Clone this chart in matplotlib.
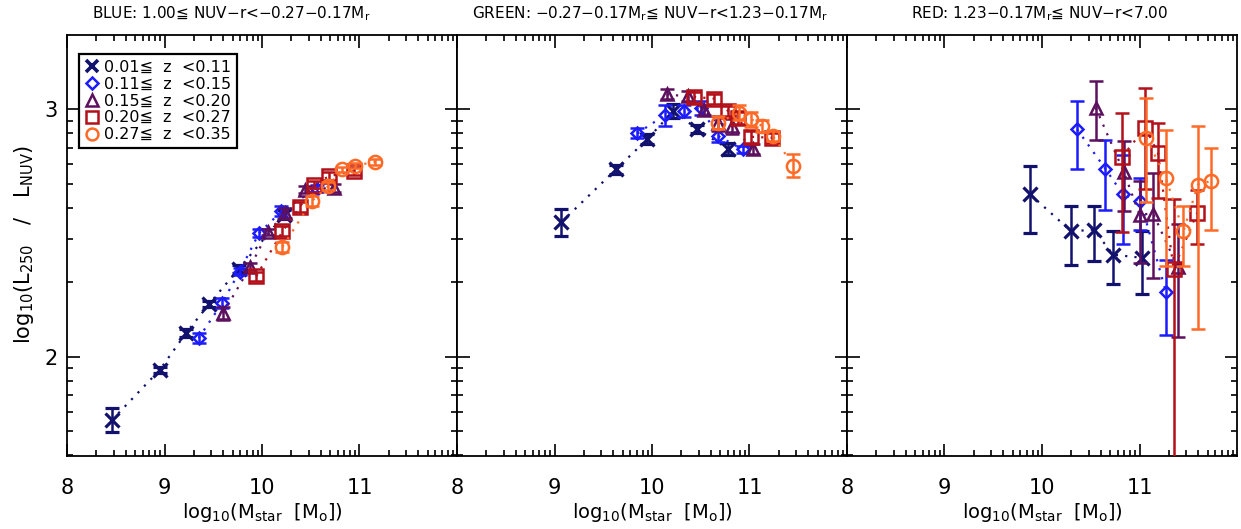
import numpy as np
import matplotlib
matplotlib.use('Agg')
import matplotlib.pyplot as plt
from matplotlib.lines import Line2D
from matplotlib.ticker import FixedLocator

plt.rcParams['font.family'] = ['DejaVu Sans', 'Noto Sans CJK JP']
plt.rcParams['mathtext.fontset'] = 'dejavusans'

# redshift bins
z_labels = ['0.01\u2266  z  <0.11', '0.11\u2266  z  <0.15', '0.15\u2266  z  <0.20',
            '0.20\u2266  z  <0.27', '0.27\u2266  z  <0.35']

panel_titles = ['BLUE: 1.00\u2266 NUV\u2212r<\u22120.27\u22120.17M$_{\\rm r}$',
                'GREEN: \u22120.27\u22120.17M$_{\\rm r}$\u2266 NUV\u2212r<1.23\u22120.17M$_{\\rm r}$',
                'RED: 1.23\u22120.17M$_{\\rm r}$\u2266 NUV\u2212r<7.00']

# BLUE panel: one list per redshift bin
blue_logm = [[8.46, 8.95, 9.22, 9.46, 9.76, 10.23],
             [9.35, 9.59, 9.77, 9.97, 10.20, 10.56],
             [9.60, 9.88, 10.06, 10.24, 10.44, 10.74],
             [9.94, 10.21, 10.39, 10.53, 10.69, 10.94],
             [10.21, 10.51, 10.68, 10.82, 10.95, 11.16]]
blue_ratio = [[1.745, 1.947, 2.096, 2.215, 2.355, 2.575],
              [2.076, 2.217, 2.345, 2.500, 2.588, 2.680],
              [2.176, 2.365, 2.503, 2.580, 2.676, 2.683],
              [2.325, 2.507, 2.606, 2.696, 2.730, 2.750],
              [2.444, 2.629, 2.690, 2.757, 2.773, 2.787]]
blue_err = [[0.05, 0.012, 0.015, 0.012, 0.015, 0.02],
            [0.02, 0.02, 0.015, 0.015, 0.02, 0.015],
            [0.025, 0.015, 0.012, 0.02, 0.015, 0.015],
            [0.02, 0.02, 0.02, 0.015, 0.015, 0.015],
            [0.02, 0.02, 0.015, 0.012, 0.012, 0.012]]

# GREEN panel
green_logm = [[9.07, 9.63, 9.95, 10.22, 10.46, 10.78],
              [9.85, 10.13, 10.33, 10.50, 10.68, 10.93],
              [10.15, 10.37, 10.53, 10.68, 10.82, 11.04],
              [10.43, 10.64, 10.78, 10.88, 11.02, 11.23],
              [10.68, 10.89, 11.02, 11.13, 11.24, 11.45]]
green_ratio = [[2.544, 2.757, 2.879, 2.993, 2.921, 2.840],
               [2.903, 2.976, 2.993, 3.005, 2.892, 2.838],
               [3.060, 3.052, 2.998, 2.943, 2.932, 2.838],
               [3.050, 3.043, 2.993, 2.966, 2.889, 2.885],
               [2.946, 2.986, 2.960, 2.932, 2.892, 2.773]]
green_err = [[0.055, 0.02, 0.02, 0.03, 0.015, 0.025],
             [0.02, 0.042, 0.025, 0.03, 0.025, 0.015],
             [0.02, 0.02, 0.02, 0.03, 0.03, 0.02],
             [0.02, 0.02, 0.02, 0.025, 0.025, 0.02],
             [0.025, 0.03, 0.03, 0.025, 0.02, 0.045]]

# RED panel (asymmetric errors)
red_logm = [[9.88, 10.30, 10.53, 10.73, 11.03],
            [10.36, 10.65, 10.83, 11.01, 11.27],
            [10.55, 10.84, 11.00, 11.14, 11.39],
            [10.82, 11.06, 11.19, 11.35, 11.59],
            [11.07, 11.27, 11.45, 11.60, 11.73]]
red_ratio = [[2.656, 2.507, 2.514, 2.413, 2.400],
             [2.919, 2.760, 2.656, 2.629, 2.264],
             [3.007, 2.746, 2.575, 2.579, 2.363],
             [2.808, 2.926, 2.822, 2.355, 2.581],
             [2.885, 2.723, 2.507, 2.696, 2.710]]
red_err_hi = [[0.114, 0.104, 0.097, 0.097, 0.11],
              [0.115, 0.114, 0.16, 0.094, 0.129],
              [0.108, 0.126, 0.135, 0.162, 0.174],
              [0.176, 0.158, 0.124, 0.281, 0.092],
              [0.162, 0.193, 0.102, 0.236, 0.132]]
red_err_lo = [[0.155, 0.135, 0.128, 0.117, 0.145],
              [0.159, 0.165, 0.20, 0.115, 0.175],
              [0.133, 0.158, 0.196, 0.26, 0.281],
              [0.303, 0.247, 0.18, 1.2, 0.125],
              [0.26, 0.357, 0.139, 0.583, 0.199]]

colors = ['#12126e', '#1c1cff', '#5c105e', '#b3101a', '#ff6a26']
markers = ['x', 'D', '^', 's', 'o']
msizes = [10, 6.5, 9, 9.5, 9.5]

panels = [(blue_logm, blue_ratio, blue_err, blue_err),
          (green_logm, green_ratio, green_err, green_err),
          (red_logm, red_ratio, red_err_lo, red_err_hi)]

W, H = 1241, 529
fig = plt.figure(figsize=(W / 100, H / 100), dpi=100)

# IDL-style minor ticks at n + log10(k)
x_minor = [n + np.log10(k) for n in range(8, 12) for k in range(2, 10)]
y_minor = [n + np.log10(k) for n in range(1, 4) for k in range(2, 10)]

left_px = [67, 457, 847]
title_px = [231, 650, 1040]
for p, (logm, ratio, elo, ehi) in enumerate(panels):
    ax = fig.add_axes([left_px[p] / W, (H - 456) / H, 390 / W, 421 / H])
    for i in range(5):
        ax.errorbar(logm[i], ratio[i], yerr=[elo[i], ehi[i]], color=colors[i],
                    ls=(0, (1, 3.2)), lw=1.6, marker=markers[i], ms=msizes[i],
                    mfc='none', mec=colors[i], mew=1.8 if i else 2.3,
                    elinewidth=1.8, capsize=5, capthick=1.8, zorder=2 + i)
    ax.set_xlim(8, 12)
    ax.set_ylim(1.6, 3.3)
    ax.set_xticks([8, 9, 10, 11])
    ax.set_xticklabels(['8', '9', '10', '11'])
    ax.set_yticks([2, 3])
    ax.xaxis.set_minor_locator(FixedLocator(x_minor))
    ax.yaxis.set_minor_locator(FixedLocator(y_minor))
    ax.tick_params(which='both', direction='in', top=True, right=True,
                   width=1.2, labelsize=15, color='black')
    ax.tick_params(which='major', length=9)
    ax.tick_params(which='minor', length=4.5)
    ax.tick_params(axis='x', pad=16)
    ax.tick_params(axis='y', pad=7)
    if p > 0:
        ax.set_yticklabels([])
    for s in ax.spines.values():
        s.set_linewidth(1.3)
    ax.set_xlabel('log$_{10}$(M$_{\\rm star}$  [M$_{\\rm o}$])', fontsize=14,
                  labelpad=2)
    fig.text(title_px[p] / W, 1 - 14 / H, panel_titles[p], fontsize=11,
             ha='center', va='center')
    if p == 0:
        handles = [Line2D([], [], ls='none', marker=markers[i], ms=msizes[i] * 0.9,
                          mfc='none', mec=colors[i], mew=1.8 if i else 2.6)
                   for i in range(5)]
        leg = ax.legend(handles, z_labels, loc='upper left',
                        bbox_to_anchor=(0.031, 0.955), borderaxespad=0,
                        fontsize=11.5, handlelength=0.9, handletextpad=0.3,
                        labelspacing=0.12, borderpad=0.35, fancybox=False,
                        framealpha=1, edgecolor='black')
        leg.get_frame().set_linewidth(1.6)

fig.text(24 / W, 1 - 245 / H, 'log$_{10}$(L$_{250}$   /   L$_{\\rm NUV}$)',
         rotation=90, fontsize=15, ha='center', va='center')

fig.savefig('out.png', dpi=100)
